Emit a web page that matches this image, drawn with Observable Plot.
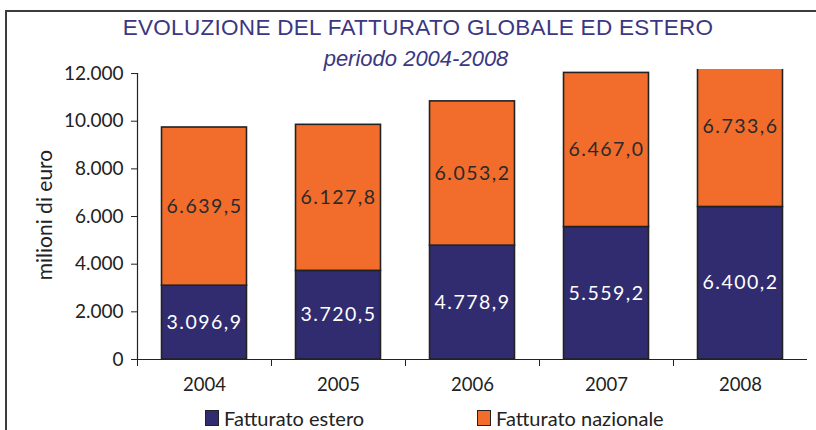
<!DOCTYPE html>
<html><head><meta charset="utf-8">
<script src="https://cdn.jsdelivr.net/npm/d3@7"></script>
<script src="https://cdn.jsdelivr.net/npm/@observablehq/plot@0.6"></script>
<style>
html,body{margin:0;padding:0;background:#fff;overflow:hidden;}
#wrap{position:relative;width:816px;height:430px;overflow:hidden;font-family:Lato,"Open Sans",sans-serif;}
#frame{position:absolute;left:5px;top:10px;width:900px;height:600px;border:2px solid #3c3c3c;box-sizing:border-box;}
#chart{position:absolute;left:0;top:0;}
#title{position:absolute;left:0;width:836px;top:15px;text-align:center;font-family:"Liberation Sans",sans-serif;font-size:22.5px;color:#3b3782;letter-spacing:0.3px;}
#subtitle{position:absolute;left:0;width:832px;top:46px;text-align:center;font-family:"Liberation Sans",sans-serif;font-size:22px;font-style:italic;color:#3b3782;}
#ylabel{position:absolute;left:43px;top:215px;transform:translate(-50%,-50%) rotate(-90deg);font-size:21px;color:#222;white-space:nowrap;}
.leg{position:absolute;top:406px;font-size:20px;color:#222;display:flex;align-items:center;}
.sw{width:12px;height:14px;border:1.5px solid #222;margin-right:5px;}
</style></head>
<body>
<div id="wrap">
  <div id="frame"></div>
  <div id="chart"></div>
  <div id="title">EVOLUZIONE DEL FATTURATO GLOBALE ED ESTERO</div>
  <div id="subtitle">periodo 2004-2008</div>
  <div id="ylabel">milioni di euro</div>
  <div id="legend"></div>
</div>
<script>
const years = ["2004", "2005", "2006", "2007", "2008"];
const estero = [3096.9, 3720.5, 4778.9, 5559.2, 6400.2];
const nazionale = [6639.5, 6127.8, 6053.2, 6467.0, 6733.6];
const seriesNames = ["Fatturato estero", "Fatturato nazionale"];
const seriesColors = ["#312b6f", "#f26d2c"];
const labelColors = ["#ffffff", "#2a2a2a"];
const yTicks = [0, 2000, 4000, 6000, 8000, 10000, 12000];

const loc = d3.formatLocale({decimal: ",", thousands: ".", grouping: [3], currency: ["", "€"]});
const f1 = loc.format(",.1f");
const f0 = loc.format(",.0f");

const rows = [];
years.forEach((yr, i) => {
  rows.push({i, year: yr, series: seriesNames[0], y1: 0, y2: estero[i], v: estero[i], lc: labelColors[0]});
  rows.push({i, year: yr, series: seriesNames[1], y1: estero[i], y2: estero[i] + nazionale[i], v: nazionale[i], lc: labelColors[1]});
});

const pad = 0.183;
const chart = Plot.plot({
  width: 816, height: 430,
  marginLeft: 137, marginRight: 9, marginTop: 69, marginBottom: 71,
  style: {fontFamily: "Lato, 'Open Sans', sans-serif", fontSize: "18px", color: "#222", background: "transparent"},
  x: {domain: [0, years.length], axis: null},
  y: {domain: [0, 12170], axis: null},
  color: {domain: seriesNames, range: seriesColors},
  marks: [
    Plot.rectY(rows, {x1: d => d.i + pad, x2: d => d.i + 1 - pad, y1: "y1", y2: "y2", fill: "series", stroke: "#222", strokeWidth: 1.6, clip: true}),
    Plot.text(rows, {x: d => d.i + 0.5, y: d => (d.y1 + d.y2) / 2, text: d => f1(d.v), fill: "lc", fontSize: 19.5}),
    Plot.ruleY([0], {stroke: "#222", strokeWidth: 1.2}),
    Plot.ruleX([0], {y1: 0, y2: 12000, stroke: "#222", strokeWidth: 1.2}),
    Plot.axisY({ticks: yTicks, tickFormat: f0, tickSize: 6, tickPadding: 8, label: null, stroke: "#222", fill: "#222", fontSize: 19}),
    Plot.axisX({ticks: [0, 1, 2, 3, 4], tickFormat: () => "", tickSize: 7, label: null, stroke: "#222"}),
    Plot.axisX({ticks: years.map((y, i) => i + 0.5), tickFormat: t => years[Math.round(t - 0.5)], tickSize: 0, tickPadding: 18, label: null, fill: "#222", fontSize: 18.5})
  ]
});
document.getElementById("chart").appendChild(chart);
d3.select(chart).selectAll('g[aria-label="text"] text').style("letter-spacing", "1.5px");

const leg = document.getElementById("legend");
const legX = [205, 477];
seriesNames.forEach((n, k) => {
  const d = document.createElement("div");
  d.className = "leg";
  d.style.left = legX[k] + "px";
  d.innerHTML = `<div class="sw" style="background:${seriesColors[k]}"></div><span>${n}</span>`;
  leg.appendChild(d);
});
</script>
</body></html>
